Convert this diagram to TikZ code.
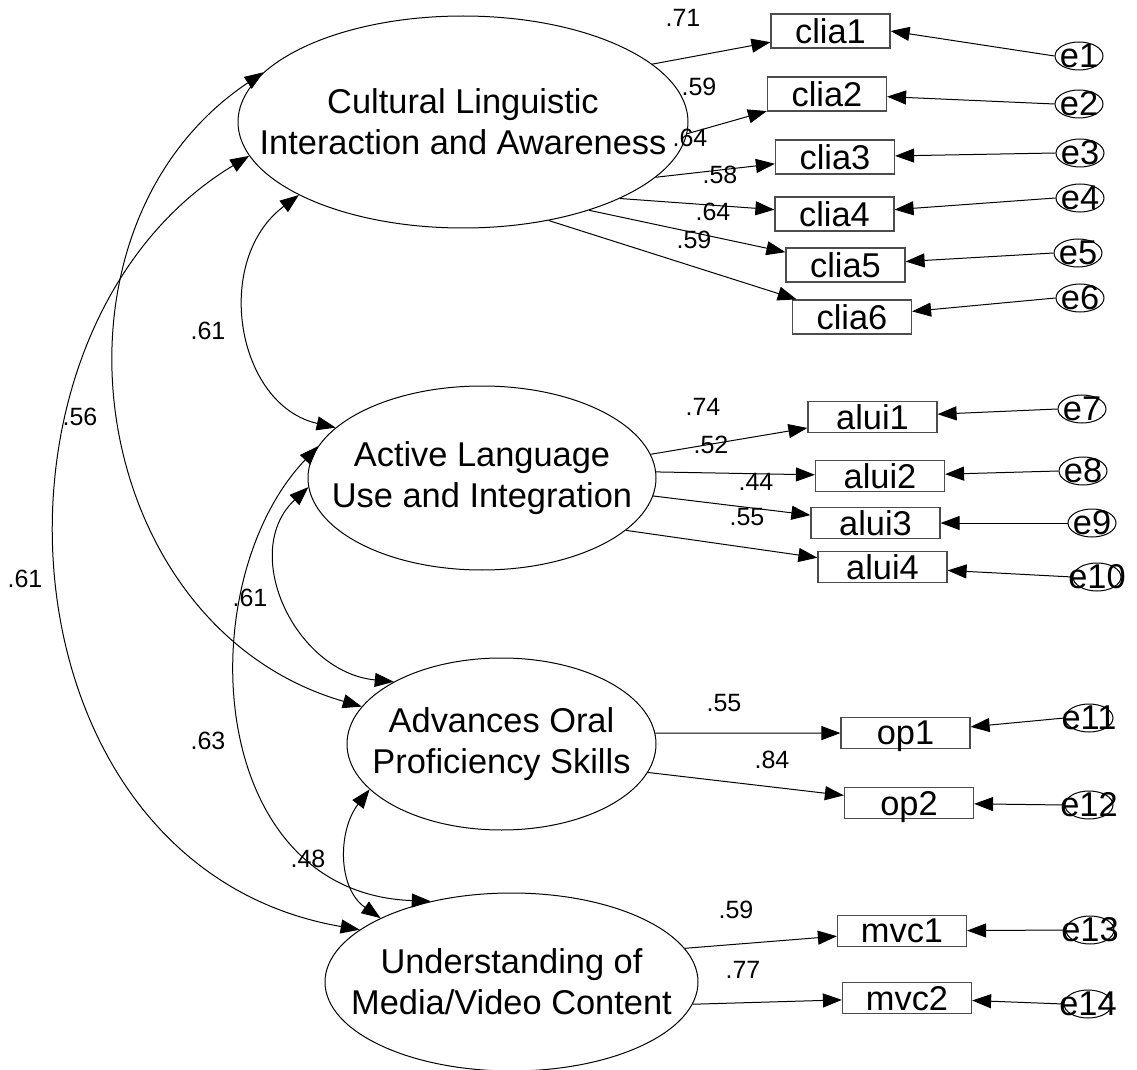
\documentclass[tikz,border=0pt]{standalone}
\usepackage{fontspec}
\setmainfont{Liberation Sans}
\usetikzlibrary{arrows.meta, shapes.geometric}

\begin{document}
\begin{tikzpicture}[
  x=0.5pt, y=-0.5pt,
  factor/.style={ellipse, draw, line width=0.5pt, inner sep=0pt,
                 label={[ftext]center:#1}},
  ftext/.style={align=center, font=\fontsize{17.2}{20.5}\selectfont},
  ind/.style={rectangle, draw=black!70, line width=0.6pt, inner sep=0pt,
              minimum width=59.5pt, minimum height=17pt, text depth=0pt,
              font=\fontsize{17.2}{20.5}\selectfont},
  wind/.style={ind, minimum width=64.5pt, minimum height=15.5pt},
  err/.style={ellipse, draw, line width=0.5pt, inner sep=0pt,
              minimum width=24pt, minimum height=14pt, label={[ftext]center:#1}},
  coef/.style={inner sep=0pt, font=\fontsize{12.5}{14}\selectfont},
  arrow/.style={-{Triangle[length=9.5pt, width=7pt]}, line width=0.5pt},
  cov/.style={{Triangle[length=9.5pt, width=7pt]}-{Triangle[length=9.5pt, width=7pt]},
              line width=0.5pt}
]
\useasboundingbox (0,0) rectangle (1137,1070);

% latent factors
\node[factor={Cultural Linguistic\\Interaction and Awareness},
      minimum width=225pt, minimum height=106pt] (clia) at (463,122) {};
\node[factor={Active Language\\Use and Integration},
      minimum width=174pt, minimum height=92pt] (alui) at (482,478) {};
\node[factor={Advances Oral\\Proficiency Skills},
      minimum width=154.5pt, minimum height=86pt] (aops) at (501.5,744) {};
\node[factor={Understanding of\\Media/Video Content},
      minimum width=186.5pt, minimum height=89pt] (umvc) at (511.5,982) {};

% observed items
\node[ind] (clia1) at (830.5,31) {clia1};
\node[ind] (clia2) at (827,94) {clia2};
\node[ind] (clia3) at (835,157) {clia3};
\node[ind] (clia4) at (834.5,214) {clia4};
\node[ind] (clia5) at (845.5,265) {clia5};
\node[ind] (clia6) at (852,317) {clia6};
\node[wind] (alui1) at (872.5,417) {alui1};
\node[wind] (alui2) at (880,476) {alui2};
\node[wind] (alui3) at (875.5,523) {alui3};
\node[wind] (alui4) at (882.5,567) {alui4};
\node[wind] (op1) at (905.5,733) {op1};
\node[wind] (op2) at (909,803) {op2};
\node[wind] (mvc1) at (902,931) {mvc1};
\node[wind] (mvc2) at (907,998) {mvc2};

% error terms
\node[err=e1] (e1) at (1079,56) {};
\node[err=e2] (e2) at (1079,104) {};
\node[err=e3] (e3) at (1080,153) {};
\node[err=e4] (e4) at (1080,198) {};
\node[err=e5] (e5) at (1078,253) {};
\node[err=e6] (e6) at (1080,298) {};
\node[err=e7] (e7) at (1082,409) {};
\node[err=e8] (e8) at (1083,471) {};
\node[err=e9] (e9) at (1092,523) {};
\node[err=e10] (e10) at (1097,577) {};
\node[err=e11] (e11) at (1089,718) {};
\node[err=e12] (e12) at (1089,805) {};
\node[err=e13] (e13) at (1090,930) {};
\node[err=e14] (e14) at (1088,1004) {};

% loadings
\draw[arrow] (clia.17) -- (clia1);
\draw[arrow] (clia.-3) -- (clia2);
\draw[arrow] (clia.-16) -- (clia3);
\draw[arrow] (clia.-26) -- (clia4);
\draw[arrow] (clia.-35) -- (clia5);
\draw[arrow] (clia.-49) -- (clia6);
\draw[arrow] (alui.8) -- (alui1);
\draw[arrow] (alui.2) -- (alui2);
\draw[arrow] (alui.-6) -- (alui3);
\draw[arrow] (alui.-20) -- (alui4);
\draw[arrow] (aops.4) -- (op1);
\draw[arrow] (aops.-11) -- (op2);
\draw[arrow] (umvc.11) -- (mvc1);
\draw[arrow] (umvc.-7) -- (mvc2);

% errors
\draw[arrow] (e1.west) -- (clia1.east);
\draw[arrow] (e2.west) -- (clia2);
\draw[arrow] (e3.west) -- (clia3);
\draw[arrow] (e4.west) -- (clia4);
\draw[arrow] (e5.west) -- (clia5);
\draw[arrow] (e6.west) -- (clia6);
\draw[arrow] (e7.west) -- (alui1);
\draw[arrow] (e8.west) -- (alui2);
\draw[arrow] (e9.west) -- (alui3);
\draw[arrow] (e10.west) -- (alui4);
\draw[arrow] (e11.west) -- (op1);
\draw[arrow] (e12.west) -- (op2);
\draw[arrow] (e13.west) -- (mvc1);
\draw[arrow] (e14.west) -- (mvc2);

% covariances
\draw[cov] (clia.204) .. controls (212,260) and (236,405) .. (alui.161);
\draw[cov] (clia.166) .. controls (28,230) and (85,627) .. (aops.165);
\draw[cov] (clia.189) .. controls (-39,330) and (-5,867) .. (umvc.161);
\draw[cov] (alui.183) .. controls (239,552) and (295,672) .. (aops.150);
\draw[cov] (alui.169) .. controls (189,582) and (204,893) .. (umvc.135);
\draw[cov] (aops.199) .. controls (338,830) and (337,888) .. (umvc.154);

% estimates
\node[coef] (w-clia1) at (683,18) {.71};
\node[coef] (w-clia2) at (699,87) {.59};
\node[coef] (w-clia3) at (690,138) {.64};
\node[coef] (w-clia4) at (720,175) {.58};
\node[coef] (w-clia5) at (713,212) {.64};
\node[coef] (w-clia6) at (694,240) {.59};
\node[coef] (w-alui1) at (703,407) {.74};
\node[coef] (w-alui2) at (711,445) {.52};
\node[coef] (w-alui3) at (756,482) {.44};
\node[coef] (w-alui4) at (747,517) {.55};
\node[coef] (w-op1) at (724,703) {.55};
\node[coef] (w-op2) at (772,760) {.84};
\node[coef] (w-mvc1) at (736,910) {.59};
\node[coef] (w-mvc2) at (743,970) {.77};
\node[coef] (r-clia-alui) at (208,331) {.61};
\node[coef] (r-clia-aops) at (80,417) {.56};
\node[coef] (r-clia-umvc) at (25,579) {.61};
\node[coef] (r-alui-umvc) at (250,598) {.61};
\node[coef] (r-alui-aops) at (208,741) {.63};
\node[coef] (r-aops-umvc) at (308,859) {.48};
\end{tikzpicture}
\end{document}
